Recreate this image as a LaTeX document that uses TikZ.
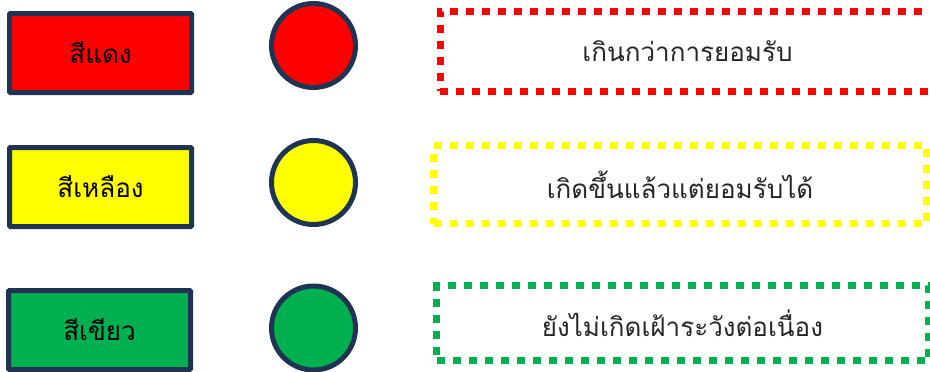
\documentclass[tikz,border=0pt]{standalone}
\usepackage{fontspec}
\newfontfamily\thaifont[Script=Thai]{Loma}
\definecolor{navy}{RGB}{31,52,82}
\definecolor{gr}{RGB}{0,176,80}
\definecolor{yl}{RGB}{255,255,0}
\definecolor{rd}{RGB}{255,0,0}
\definecolor{txt}{RGB}{38,38,38}
\tikzset{
  colbox/.style={draw=navy, line width=5pt, rounded corners=1pt, inner sep=0pt,
    minimum width=182pt, minimum height=79pt, font=\thaifont\fontsize{26}{30}\selectfont, text=black},
  lamp/.style={circle, draw=navy, line width=5pt, inner sep=0pt, minimum size=84pt},
  dotbox/.style={line width=7pt, dash pattern=on 8pt off 8pt, inner sep=0pt,
    font=\thaifont\fontsize{26}{30}\selectfont, text=txt}
}
\begin{document}
\begin{tikzpicture}[x=1pt,y=-1pt]
\useasboundingbox (0,0) rectangle (930,372);
% red row
\node[colbox, fill=rd] (rbox) at (100.5,53) {สีแดง};
\node[lamp, fill=rd] (rlamp) at (313.5,45.5) {};
\node[dotbox, draw=rd, minimum width=505pt, minimum height=80pt] (rnote) at (692.5,51) {\hspace*{-10pt}เกินกว่าการยอมรับ};
% yellow row
\node[colbox, fill=yl] (ybox) at (100.5,187) {สีเหลือง};
\node[lamp, fill=yl] (ylamp) at (313.5,182.5) {};
\node[dotbox, draw=yl, minimum width=493pt, minimum height=78pt] (ynote) at (680,184.5) {เกิดขึ้นแล้วแต่ยอมรับได้};
% green row
\node[colbox, fill=gr] (gbox) at (99.5,330) {สีเขียว};
\node[lamp, fill=gr] (glamp) at (313.5,328) {};
\node[dotbox, draw=gr, minimum width=492pt, minimum height=75pt] (gnote) at (682.5,323) {ยังไม่เกิดเฝ้าระวังต่อเนื่อง};
\end{tikzpicture}
\end{document}
